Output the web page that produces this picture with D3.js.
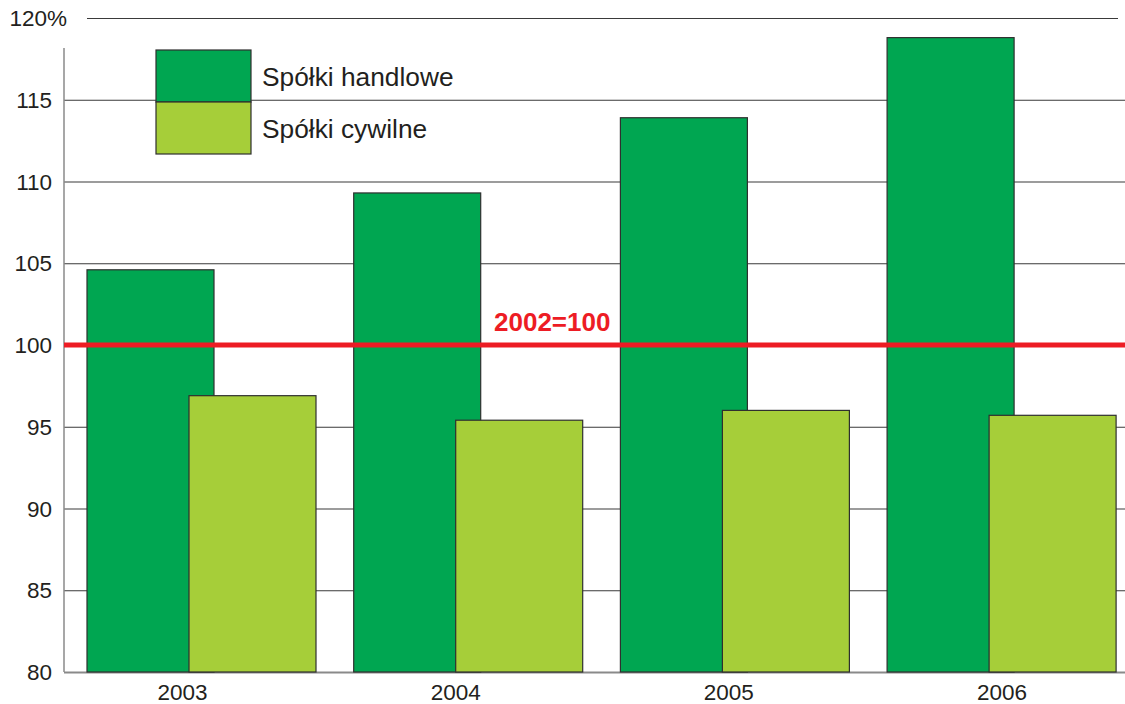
<!DOCTYPE html>
<html><head><meta charset="utf-8">
<script src="https://cdn.jsdelivr.net/npm/d3@7"></script>
<style>body{margin:0;background:#fff}svg{display:block}text{font-family:Arial,"Liberation Sans",sans-serif;fill:#231f20}</style>
</head><body><svg id="c" width="1125" height="704"></svg>
<script>
const years = ["2003","2004","2005","2006"];
const series = ["Spółki handlowe","Spółki cywilne"];
const handlowe = [104.6, 109.3, 113.9, 118.8];
const cywilne = [96.9, 95.4, 96.0, 95.7];
const yTicks = [80,85,90,95,100,105,110,115,120];
const baseValue = 100;
const baseLabel = "2002=100";
const colors = ["#00a651","#a6ce39"];

const svg = d3.select("#c");
const y = d3.scaleLinear().domain([80,120]).range([672,18]);
const xg = d3.scaleBand().domain(years).range([87, 87+4*266.7]).paddingInner(0);
const xs = d3.scalePoint().domain(series).range([0,102]);
const barW = 127;
const xl = d3.scalePoint().domain(years).range([182.5,1002]);

// gridlines
svg.append("g").selectAll("line").data(yTicks.filter(t=>t>80)).join("line")
  .attr("x1", d=> d===120 ? 87 : 64).attr("x2", d=> d===120 ? 1118 : 1125)
  .attr("y1", d=>y(d)+0.5).attr("y2", d=>y(d)+0.5)
  .attr("stroke","#3a3a3a").attr("stroke-width",1.2);

// axes lines
svg.append("line").attr("x1",64).attr("x2",64).attr("y1",48).attr("y2",y(80))
  .attr("stroke","#8a8a8a").attr("stroke-width",1.5);
svg.append("line").attr("x1",64).attr("x2",1125).attr("y1",y(80)+0.5).attr("y2",y(80)+0.5)
  .attr("stroke","#8a8a8a").attr("stroke-width",1.8);

// bars
const data = years.map((yr,i)=>({yr, vals:[handlowe[i], cywilne[i]]}));
const grp = svg.append("g").selectAll("g").data(data).join("g")
  .attr("transform", d=>`translate(${xg(d.yr)},0)`);
grp.selectAll("rect").data(d=>d.vals.map((v,j)=>({v, s:series[j], j}))).join("rect")
  .attr("x", d=>xs(d.s)).attr("width", barW)
  .attr("y", d=>y(d.v)).attr("height", d=>y(80)-y(d.v))
  .attr("fill", d=>colors[d.j]).attr("stroke","#2f2f2f").attr("stroke-width",1.2);

// red base line
svg.append("line").attr("x1",64).attr("x2",1125).attr("y1",y(baseValue)).attr("y2",y(baseValue))
  .attr("stroke","#ed1c24").attr("stroke-width",5);
svg.append("text").attr("x",494).attr("y",y(baseValue)-14).text(baseLabel)
  .style("fill","#ed1c24").attr("font-weight","bold").attr("font-size",26);

// y labels
svg.append("g").selectAll("text").data(yTicks).join("text")
  .attr("x", d=> d===120 ? 67 : 52).attr("y", d=>y(d)+8)
  .attr("text-anchor","end").attr("font-size",22.5)
  .text(d=> d===120 ? d+"%" : d);

// x labels
svg.append("g").selectAll("text").data(years).join("text")
  .attr("x", d=>xl(d)).attr("y",700).attr("text-anchor","middle").attr("font-size",22.5)
  .text(d=>d);

// legend
const leg = svg.append("g").selectAll("g").data(series).join("g")
  .attr("transform",(d,i)=>`translate(156,${50+i*52})`);
leg.append("rect").attr("width",95).attr("height",52)
  .attr("fill",(d,i)=>colors[i]).attr("stroke","#2f2f2f").attr("stroke-width",1.2);
leg.append("text").attr("x",106).attr("y",36).attr("font-size",26.3).text(d=>d);
</script></body></html>
